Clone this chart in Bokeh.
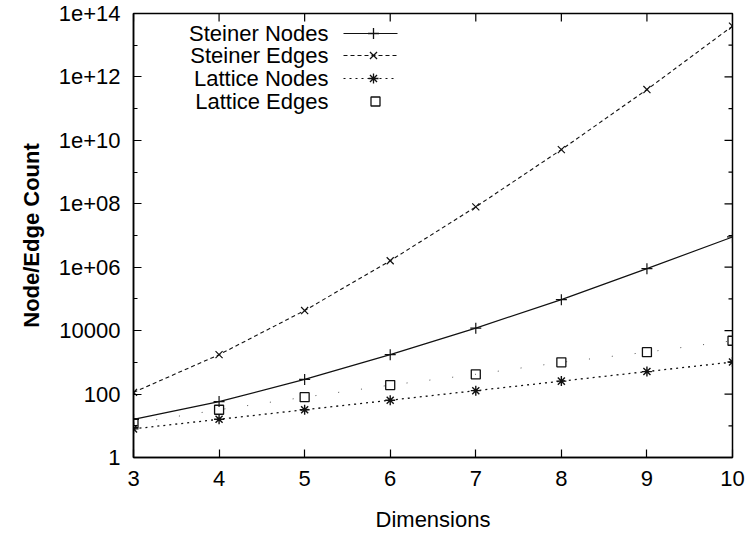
from bokeh.plotting import figure
from bokeh.models import FixedTicker, Range1d, LinearScale
from bokeh.core.properties import value
from bokeh.embed import file_html
from bokeh.resources import INLINE

# ---- data ----
dims = [3, 4, 5, 6, 7, 8, 9, 10]
steiner_nodes = [16, 58, 290, 1750, 12000, 95000, 900000, 9000000]
steiner_edges = [113, 1750, 43000, 1600000, 80000000, 5.1e9, 4.0e11, 4.0e13]
lattice_nodes = [8, 16, 32, 64, 128, 256, 512, 1024]
lattice_edges = [12, 32, 80, 192, 420, 1000, 2100, 4800]

series_names = ["Steiner Nodes", "Steiner Edges", "Lattice Nodes", "Lattice Edges"]
y_major = [1, 1e2, 1e4, 1e6, 1e8, 1e10, 1e12, 1e14]
y_minor = [1e1, 1e3, 1e5, 1e7, 1e9, 1e11, 1e13]
y_labels = ["1", "100", "10000", "1e+06", "1e+08", "1e+10", "1e+12", "1e+14"]
x_ticks = [3, 4, 5, 6, 7, 8, 9, 10]

FONT = "Liberation Sans"
FS = "22px"

W, H = 748, 536
BL, BR, BT, BB = 133, 16, 13, 79
FW, FH = W - BL - BR, H - BT - BB

p = figure(width=W, height=H, y_axis_type="log",
           x_range=Range1d(3, 10), y_range=Range1d(1, 1e14),
           output_backend="svg", toolbar_location=None,
           min_border_left=BL, min_border_right=BR,
           min_border_top=BT, min_border_bottom=BB,
           background_fill_color="white", border_fill_color="white")
p.grid.visible = False
p.outline_line_color = "black"
p.outline_line_width = 1.5

yt = FixedTicker(ticks=y_major, minor_ticks=y_minor)
xt = FixedTicker(ticks=x_ticks, minor_ticks=[])

def style_axis(ax):
    ax.axis_line_color = "black"
    ax.axis_line_width = 1.5
    ax.major_tick_in = 8
    ax.major_tick_out = 0
    ax.minor_tick_in = 4
    ax.minor_tick_out = 0
    ax.major_tick_line_width = 1.2
    ax.minor_tick_line_width = 1.2
    ax.major_label_text_font = FONT
    ax.major_label_text_font_size = FS
    ax.major_label_text_color = "black"

xa = p.xaxis[0]
xa.ticker = xt
style_axis(xa)
xa.major_label_standoff = 13
xa.axis_label = "Dimensions"
xa.axis_label_text_font = FONT
xa.axis_label_text_font_size = FS
xa.axis_label_text_font_style = "normal"
xa.axis_label_text_color = "black"
xa.axis_label_standoff = 18

ya = p.yaxis[0]
ya.ticker = yt
style_axis(ya)
ya.major_label_standoff = 13
ya.major_label_overrides = {v: s for v, s in zip(y_major, y_labels)}
ya.axis_label = "Node/Edge Count"
ya.axis_label_text_font = FONT
ya.axis_label_text_font_size = FS
ya.axis_label_text_font_style = "bold"
ya.axis_label_text_color = "black"
ya.axis_label_standoff = 12

# ---- pixel ranges for mirrored ticks and the key ----
p.extra_x_ranges = {"px": Range1d(0, FW)}
p.extra_y_ranges = {"py": Range1d(0, FH)}
p.extra_x_scales = {"px": LinearScale()}
p.extra_y_scales = {"py": LinearScale()}

# mirrored ticks on right (log y) and top (x)
p.segment(x0=[FW - 8] * len(y_major), x1=[FW] * len(y_major), y0=y_major, y1=y_major,
          x_range_name="px", line_color="black", line_width=1.2)
p.segment(x0=[FW - 4] * len(y_minor), x1=[FW] * len(y_minor), y0=y_minor, y1=y_minor,
          x_range_name="px", line_color="black", line_width=1.2)
p.segment(x0=x_ticks, x1=x_ticks, y0=[FH - 8] * len(x_ticks), y1=[FH] * len(x_ticks),
          y_range_name="py", line_color="black", line_width=1.2)

# ---- series ----
C = "#111111"
p.line(dims, steiner_nodes, line_color=C, line_width=1.2)
p.scatter(dims, steiner_nodes, marker="cross", size=11, line_color=C, line_width=1.2)

p.line(dims, steiner_edges, line_color=C, line_width=1.1, line_dash="4 3")
p.scatter(dims, steiner_edges, marker="x", size=10, line_color=C, line_width=1.2)

p.line(dims, lattice_nodes, line_color=C, line_width=1.3, line_dash="2 4")
p.scatter(dims, lattice_nodes, marker="asterisk", size=10, line_color=C, line_width=1.4)

p.line(dims, lattice_edges, line_color="#555555", line_width=1.0, line_dash="1 22")
p.scatter(dims, lattice_edges, marker="square", size=9, line_color=C,
          fill_color=None, line_width=1.3)

# ---- key (gnuplot-style: right-aligned labels, sample on the right) ----
rows = [FH - 20, FH - 42, FH - 65, FH - 88]
tx, lx0, lx1, mx = 195, 210, 264, 240
p.text(x=[tx] * 4, y=rows, text=series_names, x_range_name="px", y_range_name="py",
       text_font=value(FONT), text_font_size=value(FS), text_align="right",
       text_baseline="middle", text_color="black")

dashes = ["solid", "4 3", "2 4"]
markers = ["cross", "x", "asterisk"]
sizes = [11, 10, 10]
for i in range(3):
    p.line([lx0, lx1], [rows[i], rows[i]], x_range_name="px", y_range_name="py",
           line_color=C, line_width=1.1, line_dash=dashes[i])
    p.scatter([mx], [rows[i]], x_range_name="px", y_range_name="py",
              marker=markers[i], size=sizes[i], line_color=C, line_width=1.3)
p.scatter([mx + 2], [rows[3]], x_range_name="px", y_range_name="py",
          marker="square", size=9, line_color=C, fill_color=None, line_width=1.3)

open("out.html", "w").write(file_html(p, INLINE))
